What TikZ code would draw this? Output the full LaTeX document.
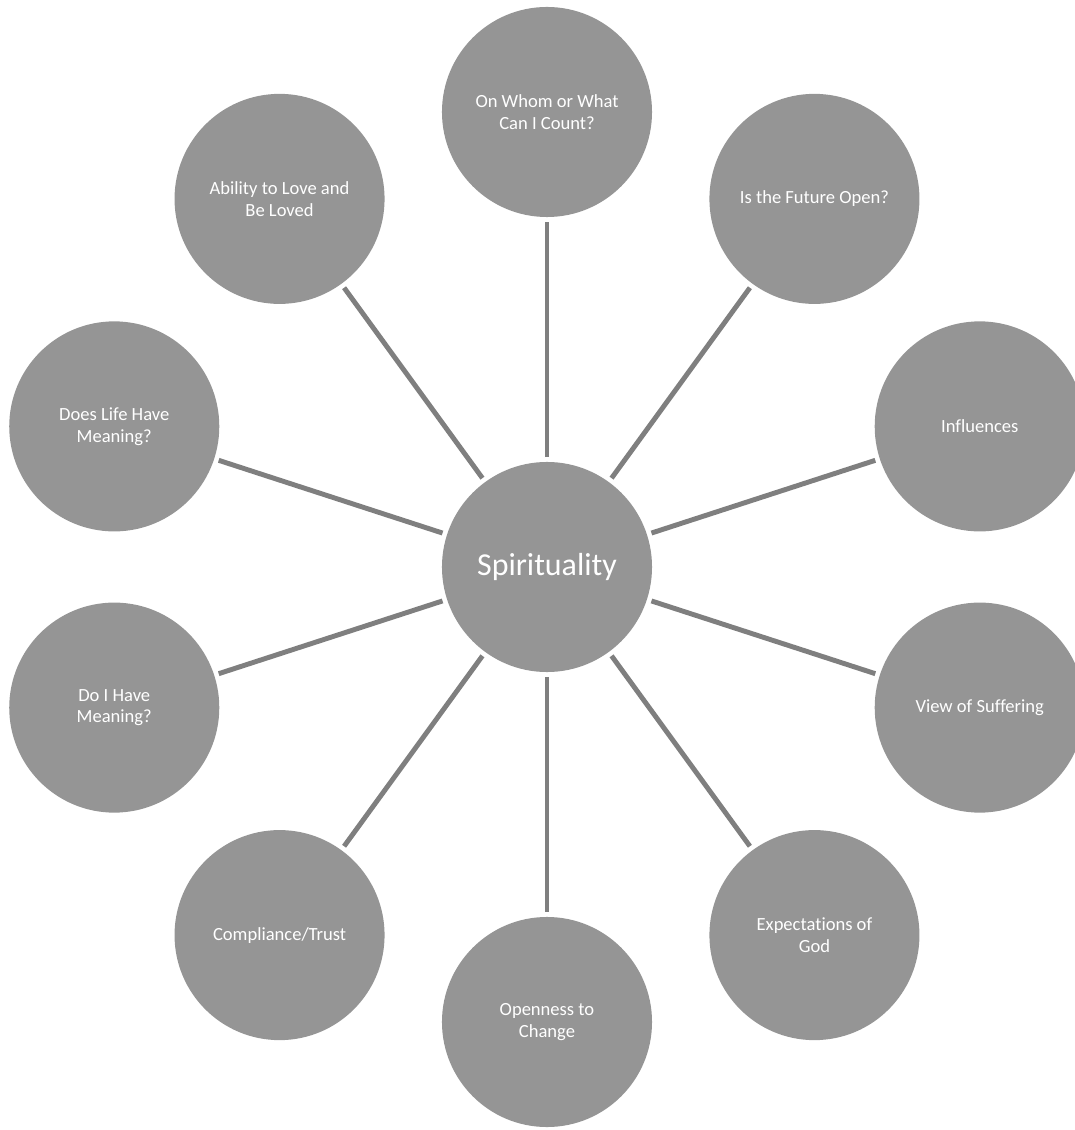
\documentclass[tikz,border=0pt]{standalone}
\usepackage{fontspec}
\setmainfont{Carlito}[Ligatures=NoCommon]
\definecolor{bubblegray}{RGB}{149,149,149}
\definecolor{spokegray}{RGB}{127,127,127}
\begin{document}
\begin{tikzpicture}[x=0.025cm,y=0.025cm,thick]

	\tikzstyle{bubble}=[shape=circle,fill=bubblegray,text=white,align=center,minimum size=5.25cm,inner sep=0pt,outer sep=0.12cm,font=\fontsize{13.2}{15.5}\selectfont]
	\tikzstyle{spoke}=[draw=spokegray,line width=3.5pt]

	\useasboundingbox (-547,-563) rectangle (527,567);

	\node[bubble,font=\fontsize{22.7}{27}\selectfont] (spirit) at (0,0) {Spirituality};

	\node[bubble] (count)   at (90:455)   {On Whom or What\\Can I Count?};
	\node[bubble] (future)  at (54:455)   {Is the Future Open?};
	\node[bubble] (influ)   at (18:455)   {Influences};
	\node[bubble] (suffer)  at (-18:455)  {View of Suffering};
	\node[bubble] (expect)  at (-54:455)  {Expectations of\\God};
	\node[bubble] (open)    at (-90:455)  {Openness to\\Change};
	\node[bubble] (comply)  at (-126:455) {Compliance/Trust};
	\node[bubble] (ihave)   at (-162:455) {Do I Have\\Meaning?};
	\node[bubble] (life)    at (162:455)  {Does Life Have\\Meaning?};
	\node[bubble] (love)    at (126:455)  {Ability to Love and\\Be Loved};

	\path[spoke] (spirit) edge (count)
				(spirit) edge (future)
				(spirit) edge (influ)
				(spirit) edge (suffer)
				(spirit) edge (expect)
				(spirit) edge (open)
				(spirit) edge (comply)
				(spirit) edge (ihave)
				(spirit) edge (life)
				(spirit) edge (love);

\end{tikzpicture}
\end{document}
